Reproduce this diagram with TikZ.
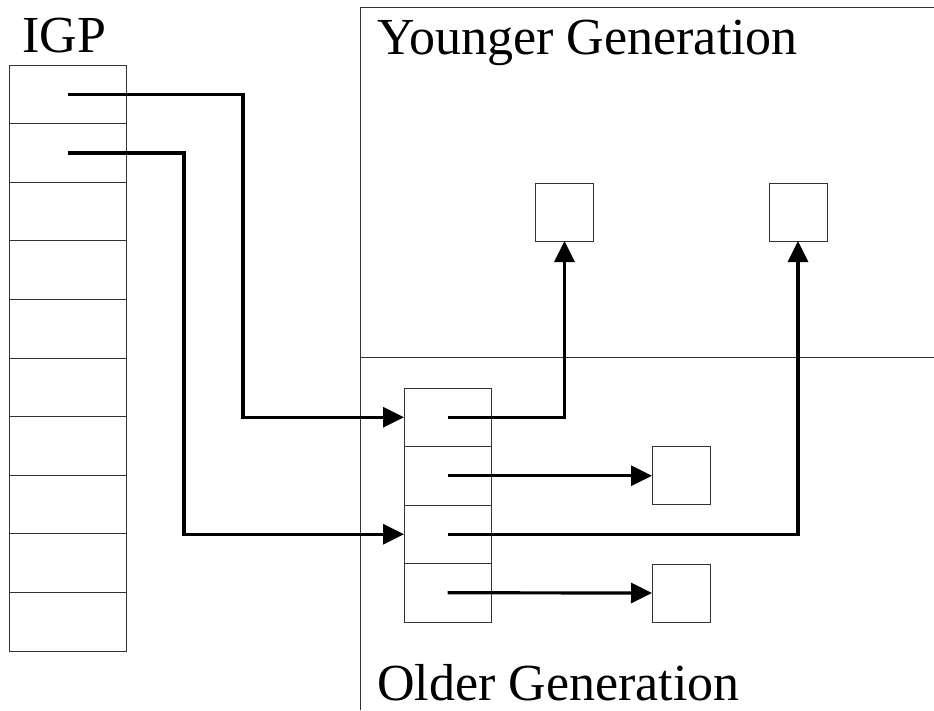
\documentclass[tikz,border=0pt]{standalone}
\usepackage{fontspec}
\setmainfont{Liberation Serif}
\usetikzlibrary{arrows.meta}
\begin{document}
\begin{tikzpicture}[x=1pt,y=-1pt,
  thin line/.style={draw=black!80,line width=1pt},
  cell/.style={thin line,outer sep=0pt,inner sep=0pt,minimum width=117pt,minimum height=58.6pt},
  ocell/.style={thin line,outer sep=0pt,inner sep=0pt,minimum width=87pt,minimum height=58.5pt},
  obj/.style={thin line,outer sep=0pt,inner sep=0pt,minimum width=58pt,minimum height=58pt},
  conn/.style={line width=3.2pt,black},
  tip/.style={-{Triangle[length=21pt,width=20pt]}},
  lbl/.style={inner sep=0pt,font=\fontsize{52}{60}\selectfont}]
\useasboundingbox (0,0) rectangle (934,710);
% frame
\draw[thin line] (360,710) -- (360,7) -- (934,7);
\draw[thin line] (360,357) -- (934,357);
% labels
\node[lbl,anchor=base west] (tigp) at (22,52) {IGP};
\node[lbl,anchor=base west] (tyoung) at (377,54) {Younger Generation};
\node[lbl,anchor=base west] (told) at (377,700) {Older Generation};
% IGP array
\foreach \i in {1,...,10}{
  \node[cell] (igp\i) at (67.5,{65+58.6*(\i-0.5)}) {};
}
% old object
\foreach \i in {1,...,4}{
  \node[ocell] (oc\i) at (447.5,{388+58.5*(\i-0.5)}) {};
}
% young objects
\node[obj] (y1) at (564.5,212) {};
\node[obj] (y2) at (798,212) {};
% old targets
\node[obj] (t1) at (681,475.75) {};
\node[obj] (t2) at (681,593) {};
% bend points
\coordinate (b1) at (243,417.25);
\coordinate (b2) at (184,534.25);
% connectors
\draw[conn,tip] (igp1.center) -| (b1) -- (oc1.west);
\draw[conn,tip] (igp2.center) -| (b2) -- (oc3.west);
\draw[conn,tip] (oc1.center) -| (y1.south);
\draw[conn,tip] (oc2.center) -- (t1.west);
\draw[conn,tip] (oc3.center) -| (y2.south);
\draw[conn,tip] (oc4.center) -- (t2.west);
\end{tikzpicture}
\end{document}
